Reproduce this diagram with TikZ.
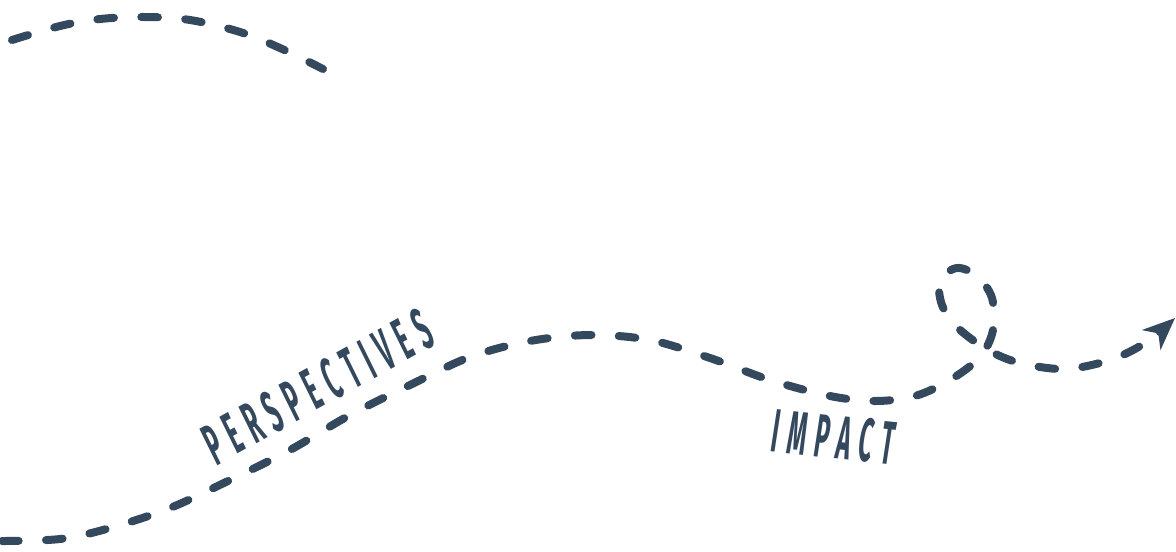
\documentclass[tikz,border=0pt]{standalone}
\usepackage{fontspec}
\newfontfamily\hand[FakeSlant=0.12]{Fira Sans}
\usetikzlibrary{arrows.meta}
\definecolor{ink}{HTML}{34495E}
\newcommand\gp{\kern 17pt}
\newcommand\gq{\kern 16pt}
\tikzset{
  road/.style={draw=ink, line width=6pt, line cap=round, dash pattern=on 12.5pt off 20.5pt},
  lbl/.style={text=ink, inner sep=0pt, font=\hand\bfseries}
}
\begin{document}
\begin{tikzpicture}[x=0.75pt, y=-0.75pt]
\useasboundingbox (0,0) rectangle (1176,551);
% top fragment
\draw[road] plot[smooth, tension=0.6] coordinates {(12,40) (60,26) (100,19) (145,17) (190,20) (240,32) (280,48) (323,69)};
% main path with loop
\draw[road, -{Stealth[length=24pt, width=20pt, inset=7pt]}] plot[smooth, tension=0.55] coordinates {
 (2,541) (60,539) (110,528) (170,508) (230,480) (290,450) (350,415) (410,385) (470,357)
 (530,341) (590,335) (650,340) (710,358) (770,380) (830,396) (875,401) (915,396) (950,380)
 (980,357) (993,330) (992,298) (977,276) (957,268) (940,280) (942,305) (958,328) (988,350)
 (1020,363) (1065,369) (1110,360) (1145,343) (1175,318)};
\node[lbl, rotate=29] (persp) at (317,387) {\fontsize{44}{46}\selectfont\scalebox{0.4}[1]{P\gp E\gp R\gp S\gp P\gp E\gp C\gp T\gp I\gp V\gp E\gp S}};
\node[lbl, rotate=-6] (impact) at (833,437) {\fontsize{46}{48}\selectfont\scalebox{0.39}[1]{I\gq M\gq P\gq A\gq C\gq T}};
\end{tikzpicture}
\end{document}
